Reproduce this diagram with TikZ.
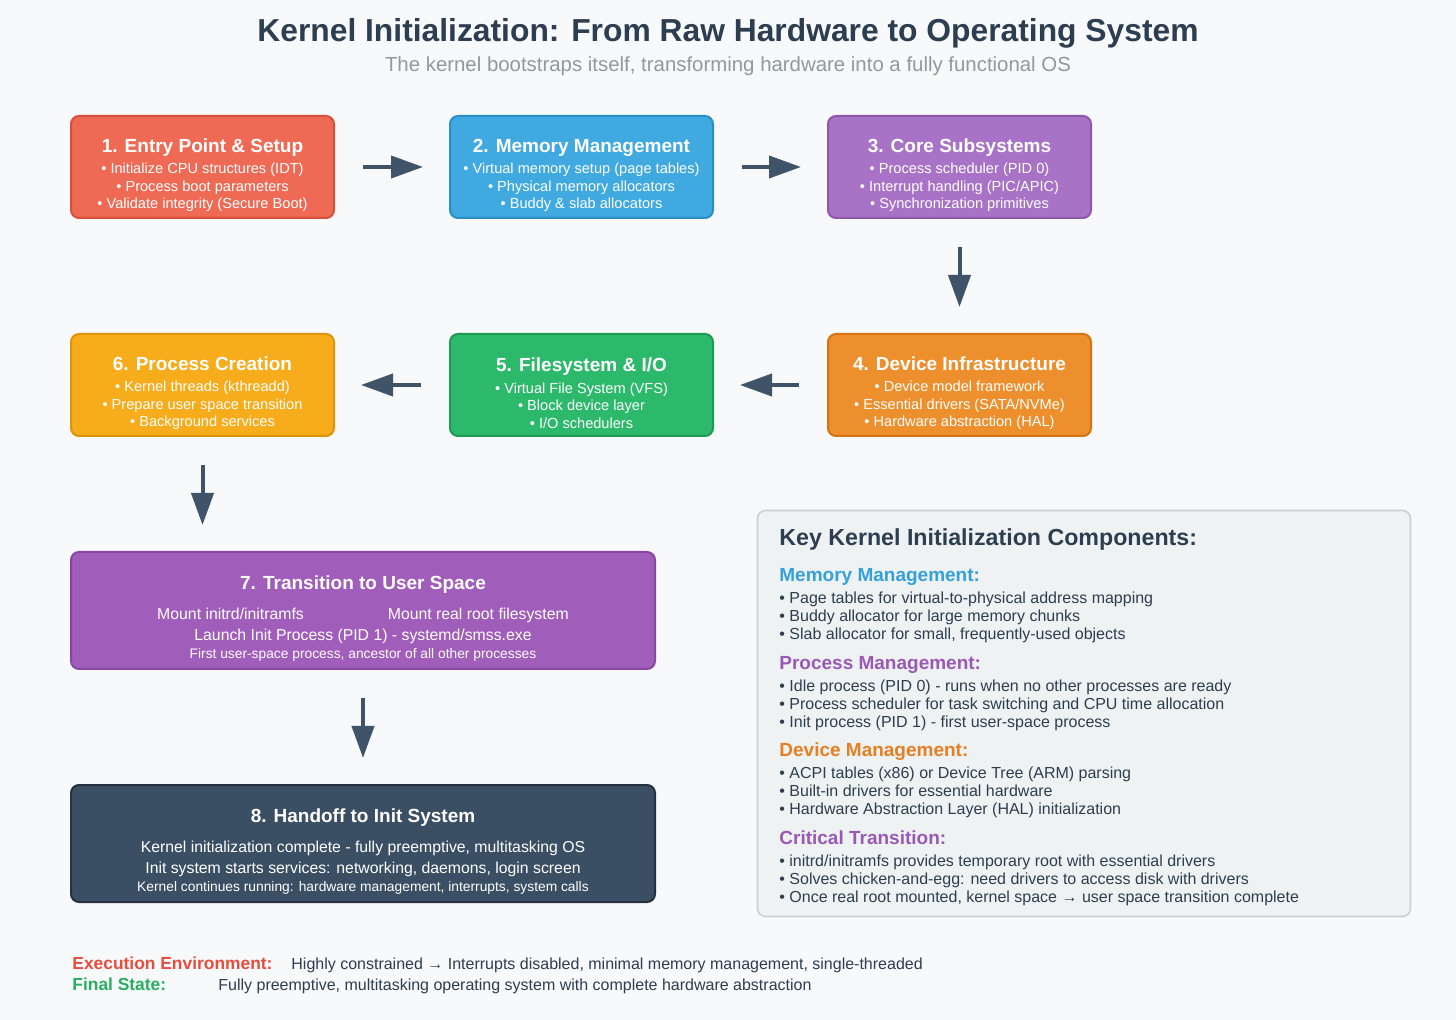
\documentclass[tikz,border=0pt]{standalone}
\usepackage{fontspec}
\setmainfont{Liberation Sans}
\usetikzlibrary{arrows.meta,positioning}
\definecolor{bgpage}{HTML}{F8F9FA}
\definecolor{titlec}{HTML}{2C3E50}
\definecolor{subc}{HTML}{8E9A9B}
\definecolor{arrowc}{HTML}{3F5468}
\definecolor{entryc}{HTML}{EF6A54}\definecolor{entryd}{HTML}{D9503A}
\definecolor{memoryc}{HTML}{3FA9E0}\definecolor{memoryd}{HTML}{2A8FC8}
\definecolor{corec}{HTML}{A873C7}\definecolor{cored}{HTML}{8E57AE}
\definecolor{devicec}{HTML}{EE8F2D}\definecolor{deviced}{HTML}{D67314}
\definecolor{filesc}{HTML}{2DB96B}\definecolor{filesd}{HTML}{1E9A55}
\definecolor{procc}{HTML}{F6AC1B}\definecolor{procd}{HTML}{E0940A}
\definecolor{userc}{HTML}{A05DBA}\definecolor{userd}{HTML}{8A45A6}
\definecolor{handoffc}{HTML}{3B4F64}\definecolor{handoffd}{HTML}{24313F}
\definecolor{panelc}{HTML}{EEF2F3}\definecolor{paneld}{HTML}{C9D1D5}
\definecolor{memhead}{HTML}{34A0DC}
\definecolor{prochead}{HTML}{9B59B6}
\definecolor{devhead}{HTML}{E67E22}
\definecolor{execc}{HTML}{E74C3C}
\definecolor{finalc}{HTML}{27AE60}
\newcommand{\stephead}[1]{\rule{0pt}{15pt}{\fontsize{9.5}{11}\selectfont\bfseries #1}}
\newcommand{\keyhead}[2]{{\color{#1}\fontsize{9.5}{11}\selectfont\bfseries #2}}
\tikzset{
  stepbox/.style={rectangle,draw,rounded corners=4pt,line width=1pt,align=center,
    minimum width=131.5pt,minimum height=51pt,inner ysep=2.5pt,text=white,
    font=\fontsize{7.3}{8.75}\selectfont},
  widebox/.style={rectangle,draw,rounded corners=4pt,line width=1pt,align=center,
    minimum width=292pt,minimum height=58.5pt,inner ysep=2.5pt,text=white,
    font=\fontsize{7.9}{10.5}\selectfont},
  keypanel/.style={rectangle,draw=paneld,fill=panelc,rounded corners=4pt,line width=0.8pt,
    minimum width=326.5pt,minimum height=203pt},
  keylist/.style={align=left,inner sep=0pt,text=titlec,font=\fontsize{8}{9}\selectfont},
  envtext/.style={inner sep=0pt,text=titlec,font=\fontsize{8}{9}\selectfont},
  flow/.style={-{Triangle[length=16pt,width=11pt]},line width=2pt,draw=arrowc,
    shorten <=14pt,shorten >=13pt},
}
\begin{document}
\begin{tikzpicture}[x=0.5pt,y=-0.5pt]
\fill[bgpage] (0,0) rectangle (1456,1020);
\node[text=titlec,font=\fontsize{15.9}{18}\selectfont\bfseries] (title) at (728,33)
  {Kernel Initialization: From Raw Hardware to Operating System};
\node[text=subc,font=\fontsize{10.2}{12}\selectfont] (subtitle) at (728,66)
  {The kernel bootstraps itself, transforming hardware into a fully functional OS};

% first row
\node[stepbox,fill=entryc,draw=entryd] (entry) at (202.5,167)
  {\stephead{1. Entry Point \& Setup}\\[2pt] • Initialize CPU structures (IDT)\\ • Process boot parameters\\ • Validate integrity (Secure Boot)};
\node[stepbox,fill=memoryc,draw=memoryd,right=57pt of entry] (memory)
  {\stephead{2. Memory Management}\\[2pt] • Virtual memory setup (page tables)\\ • Physical memory allocators\\ • Buddy \& slab allocators};
\node[stepbox,fill=corec,draw=cored,right=56.5pt of memory] (core)
  {\stephead{3. Core Subsystems}\\[2pt] • Process scheduler (PID 0)\\ • Interrupt handling (PIC/APIC)\\ • Synchronization primitives};

% second row, right to left
\node[stepbox,fill=devicec,draw=deviced,below=57pt of core] (device)
  {\stephead{4. Device Infrastructure}\\[2pt] • Device model framework\\ • Essential drivers (SATA/NVMe)\\ • Hardware abstraction (HAL)};
\node[stepbox,fill=filesc,draw=filesd,left=56.5pt of device] (files)
  {\stephead{5. Filesystem \& I/O}\\[2pt] • Virtual File System (VFS)\\ • Block device layer\\ • I/O schedulers};
\node[stepbox,fill=procc,draw=procd,left=57pt of files] (proc)
  {\stephead{6. Process Creation}\\[2pt] • Kernel threads (kthreadd)\\ • Prepare user space transition\\ • Background services};

% wide boxes
\node[widebox,fill=userc,draw=userd,below=57pt of proc.south west,anchor=north west] (user)
  {\stephead{7. Transition to User Space}\\[4.5pt] Mount initrd/initramfs\hspace{42pt}Mount real root filesystem\\ Launch Init Process (PID 1) - systemd/smss.exe\\[-1.5pt] {\fontsize{6.9}{9}\selectfont First user-space process, ancestor of all other processes}};
\node[widebox,fill=handoffc,draw=handoffd,below=57pt of user] (handoff)
  {\stephead{8. Handoff to Init System}\\[4.5pt] Kernel initialization complete - fully preemptive, multitasking OS\\ Init system starts services: networking, daemons, login screen\\[-1.5pt] {\fontsize{6.9}{9}\selectfont Kernel continues running: hardware management, interrupts, system calls}};

\draw[flow] (entry) -- (memory);
\draw[flow] (memory) -- (core);
\draw[flow] (core) -- (device);
\draw[flow] (device) -- (files);
\draw[flow] (files) -- (proc);
\draw[flow] (proc) -- (proc |- user.north);
\draw[flow] (user) -- (handoff);

% key components panel
\node[keypanel] (keys) at (1084,713.5) {};
\node[anchor=base west,inner sep=0pt,text=titlec,font=\fontsize{11.6}{13}\selectfont\bfseries] (keytitle) at (779,546)
  {Key Kernel Initialization Components:};
\node[keylist,anchor=north west] (kmem) at (779,568.5)
  {\keyhead{memhead}{Memory Management:}\\[2pt] • Page tables for virtual-to-physical address mapping\\ • Buddy allocator for large memory chunks\\ • Slab allocator for small, frequently-used objects};
\node[keylist,anchor=north west] (kproc) at (779,656.5)
  {\keyhead{prochead}{Process Management:}\\[2pt] • Idle process (PID 0) - runs when no other processes are ready\\ • Process scheduler for task switching and CPU time allocation\\ • Init process (PID 1) - first user-space process};
\node[keylist,anchor=north west] (kdev) at (779,742.5)
  {\keyhead{devhead}{Device Management:}\\[2pt] • ACPI tables (x86) or Device Tree (ARM) parsing\\ • Built-in drivers for essential hardware\\ • Hardware Abstraction Layer (HAL) initialization};
\node[keylist,anchor=north west] (kcrit) at (779,830.5)
  {\keyhead{prochead}{Critical Transition:}\\[2pt] • initrd/initramfs provides temporary root with essential drivers\\ • Solves chicken-and-egg: need drivers to access disk with drivers\\ • Once real root mounted, kernel space → user space transition complete};

% environment notes
\node[anchor=base west,inner sep=0pt,text=execc,font=\fontsize{8.7}{9}\selectfont\bfseries] (execlbl) at (72,969)
  {Execution Environment:};
\node[envtext,anchor=base west] (exectext) at (291,969)
  {Highly constrained → Interrupts disabled, minimal memory management, single-threaded};
\node[anchor=base west,inner sep=0pt,text=finalc,font=\fontsize{8.7}{9}\selectfont\bfseries] (finallbl) at (72,990)
  {Final State:};
\node[envtext,anchor=base west] (finaltext) at (218,990)
  {Fully preemptive, multitasking operating system with complete hardware abstraction};
\end{tikzpicture}
\end{document}
